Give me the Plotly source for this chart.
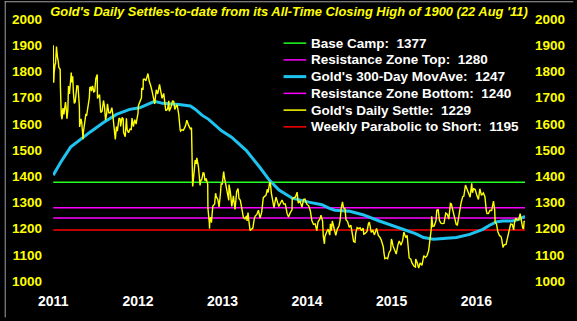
import plotly.graph_objects as go

# ---------------- data ----------------
settle_dates = [
    "2011-08-22","2011-08-23","2011-08-24","2011-08-25","2011-08-26","2011-08-30","2011-09-01","2011-09-05","2011-09-06","2011-09-09",
    "2011-09-13","2011-09-15","2011-09-19","2011-09-21","2011-09-22","2011-09-23","2011-09-26","2011-09-27","2011-09-28","2011-09-30",
    "2011-10-03","2011-10-05","2011-10-07","2011-10-11","2011-10-14","2011-10-18","2011-10-20","2011-10-24","2011-10-27","2011-10-31",
    "2011-11-03","2011-11-08","2011-11-10","2011-11-14","2011-11-17","2011-11-21","2011-11-25","2011-11-29","2011-12-02","2011-12-07",
    "2011-12-09","2011-12-13","2011-12-14","2011-12-16","2011-12-20","2011-12-23","2011-12-29","2011-12-30",
    "2012-01-03","2012-01-06","2012-01-10","2012-01-13","2012-01-18","2012-01-23","2012-01-25","2012-01-27","2012-01-31","2012-02-03",
    "2012-02-08","2012-02-13","2012-02-17","2012-02-22","2012-02-28","2012-02-29","2012-03-05","2012-03-09","2012-03-14","2012-03-20",
    "2012-03-26","2012-03-30","2012-04-04","2012-04-09","2012-04-12","2012-04-18","2012-04-25","2012-05-01","2012-05-04","2012-05-09",
    "2012-05-14","2012-05-16","2012-05-21","2012-05-25","2012-06-01","2012-06-06","2012-06-08","2012-06-14","2012-06-19","2012-06-21",
    "2012-06-28","2012-07-03","2012-07-06","2012-07-12","2012-07-19","2012-07-24","2012-07-27","2012-08-02","2012-08-08","2012-08-14",
    "2012-08-17","2012-08-22","2012-08-24","2012-08-31","2012-09-06","2012-09-07","2012-09-13","2012-09-14","2012-09-19","2012-09-25",
    "2012-09-28","2012-10-04","2012-10-09","2012-10-12","2012-10-16","2012-10-22","2012-10-25","2012-11-02","2012-11-09","2012-11-15",
    "2012-11-23","2012-11-28","2012-12-04","2012-12-11","2012-12-14","2012-12-20","2012-12-28",
    "2013-01-02","2013-01-04","2013-01-11","2013-01-18","2013-01-23","2013-01-28","2013-01-31","2013-02-05","2013-02-08","2013-02-14",
    "2013-02-20","2013-02-22","2013-02-28","2013-03-06","2013-03-15","2013-03-21","2013-03-28","2013-04-05","2013-04-10","2013-04-12",
    "2013-04-15","2013-04-16","2013-04-22","2013-04-26","2013-05-01","2013-05-03","2013-05-10","2013-05-15","2013-05-17","2013-05-20",
    "2013-05-24","2013-05-30","2013-06-03","2013-06-07","2013-06-12","2013-06-19","2013-06-20","2013-06-26","2013-06-27","2013-06-28",
    "2013-07-02","2013-07-05","2013-07-11","2013-07-19","2013-07-23","2013-07-26","2013-08-02","2013-08-07","2013-08-13","2013-08-16",
    "2013-08-21","2013-08-27","2013-08-30","2013-09-05","2013-09-12","2013-09-18","2013-09-19","2013-09-25","2013-10-01","2013-10-08",
    "2013-10-15","2013-10-22","2013-10-28","2013-11-01","2013-11-07","2013-11-12","2013-11-20","2013-11-27","2013-12-04","2013-12-06",
    "2013-12-10","2013-12-13","2013-12-19","2013-12-24","2013-12-31",
    "2014-01-06","2014-01-10","2014-01-17","2014-01-24","2014-01-31","2014-02-07","2014-02-14","2014-02-21","2014-02-26","2014-03-03",
    "2014-03-07","2014-03-14","2014-03-17","2014-03-21","2014-03-28","2014-04-01","2014-04-10","2014-04-15","2014-04-22","2014-04-28",
    "2014-05-06","2014-05-13","2014-05-20","2014-05-28","2014-06-03","2014-06-10","2014-06-18","2014-06-19","2014-06-27","2014-07-03",
    "2014-07-10","2014-07-15","2014-07-22","2014-07-31","2014-08-07","2014-08-13","2014-08-20","2014-08-29","2014-09-05","2014-09-12",
    "2014-09-19","2014-09-26","2014-10-03","2014-10-08","2014-10-17","2014-10-21","2014-10-28","2014-10-31","2014-11-05","2014-11-07",
    "2014-11-14","2014-11-21","2014-11-28","2014-12-01","2014-12-05","2014-12-09","2014-12-15","2014-12-18","2014-12-24","2014-12-31",
    "2015-01-07","2015-01-12","2015-01-16","2015-01-22","2015-01-26","2015-02-02","2015-02-06","2015-02-13","2015-02-20","2015-02-27",
    "2015-03-06","2015-03-11","2015-03-17","2015-03-20","2015-03-26","2015-04-02","2015-04-08","2015-04-14","2015-04-21","2015-04-24",
    "2015-04-30","2015-05-08","2015-05-14","2015-05-18","2015-05-26","2015-06-02","2015-06-09","2015-06-18","2015-06-26","2015-07-01",
    "2015-07-08","2015-07-17","2015-07-20","2015-07-24","2015-07-30","2015-08-05","2015-08-11","2015-08-18","2015-08-21","2015-08-24",
    "2015-08-28","2015-09-04","2015-09-11","2015-09-18","2015-09-24","2015-10-02","2015-10-09","2015-10-14","2015-10-22","2015-10-28",
    "2015-11-03","2015-11-06","2015-11-13","2015-11-18","2015-11-27","2015-12-03","2015-12-04","2015-12-10","2015-12-17","2015-12-23",
    "2015-12-31",
    "2016-01-05","2016-01-08","2016-01-15","2016-01-22","2016-01-29","2016-02-04","2016-02-09","2016-02-11","2016-02-16","2016-02-22",
    "2016-02-26","2016-03-01","2016-03-04","2016-03-10","2016-03-16","2016-03-23","2016-03-28","2016-04-04","2016-04-12","2016-04-19",
    "2016-04-25","2016-05-02","2016-05-06","2016-05-12","2016-05-19","2016-05-27","2016-06-01","2016-06-06","2016-06-13","2016-06-17",
    "2016-06-24","2016-06-29","2016-07-06","2016-07-11","2016-07-19","2016-07-26","2016-08-02","2016-08-05","2016-08-10","2016-08-17",
    "2016-08-24","2016-08-31","2016-09-06","2016-09-13","2016-09-21","2016-09-28","2016-10-04","2016-10-07","2016-10-13","2016-10-20",
    "2016-10-27","2016-11-04","2016-11-08","2016-11-09","2016-11-11","2016-11-17","2016-11-23","2016-11-30","2016-12-06","2016-12-09",
    "2016-12-15","2016-12-20","2016-12-28",
    "2017-01-04","2017-01-09","2017-01-13","2017-01-17","2017-01-24","2017-01-30","2017-02-02","2017-02-08","2017-02-15","2017-02-21",
    "2017-02-27","2017-03-01","2017-03-07","2017-03-10","2017-03-14","2017-03-16","2017-03-20",
]
settle_prices = [
    1900,1862,1757,1772,1795,1828,1829,1895,1873,1856,
    1836,1816,1810,1808,1741,1656,1628,1652,1617,1624,
    1660,1642,1636,1663,1683,1649,1619,1652,1744,1714,
    1763,1796,1758,1781,1721,1678,1684,1716,1745,1744,
    1713,1664,1588,1598,1619,1606,1541,1566,
    1600,1616,1638,1630,1660,1678,1700,1738,1740,1725,
    1745,1722,1724,1773,1788,1697,1705,1712,1643,1648,
    1689,1669,1614,1640,1676,1642,1642,1662,1645,1593,
    1557,1540,1589,1572,1622,1618,1590,1624,1619,1566,
    1551,1621,1579,1566,1580,1578,1622,1589,1616,1599,
    1616,1640,1670,1687,1699,1737,1730,1770,1771,1764,
    1771,1792,1764,1758,1745,1724,1712,1676,1730,1714,
    1750,1718,1697,1716,1696,1650,1656,
    1688,1648,1662,1687,1686,1655,1662,1673,1667,1635,
    1577,1572,1578,1575,1592,1614,1595,1581,1585,1501,
    1361,1368,1424,1462,1447,1470,1437,1395,1365,1385,
    1386,1413,1412,1383,1391,1370,1277,1222,1200,1234,
    1243,1223,1286,1294,1335,1322,1310,1283,1334,1370,
    1370,1418,1396,1367,1323,1308,1368,1337,1285,1325,
    1273,1342,1353,1315,1308,1281,1243,1237,1249,1229,
    1261,1235,1193,1197,1202,
    1237,1248,1254,1270,1240,1262,1318,1323,1328,1350,
    1338,1379,1372,1334,1294,1280,1320,1302,1284,1296,
    1309,1294,1294,1257,1244,1260,1272,1314,1320,1321,
    1339,1297,1306,1282,1312,1313,1294,1287,1268,1230,
    1216,1218,1192,1225,1238,1251,1229,1171,1142,1169,
    1186,1198,1175,1218,1192,1229,1207,1196,1174,1199,
    1211,1233,1276,1302,1280,1275,1234,1227,1205,1213,
    1164,1151,1148,1182,1204,1200,1203,1192,1202,1179,
    1182,1189,1219,1225,1186,1193,1176,1201,1173,1169,
    1157,1131,1107,1085,1088,1085,1108,1118,1160,1153,
    1134,1121,1103,1137,1153,1137,1156,1187,1166,1174,
    1115,1088,1083,1069,1056,1053,1084,1072,1049,1069,
    1060,
    1078,1097,1090,1097,1116,1157,1197,1247,1208,1210,
    1220,1231,1270,1272,1230,1220,1219,1220,1259,1254,
    1236,1296,1294,1273,1252,1216,1214,1247,1285,1298,
    1322,1324,1366,1355,1332,1320,1373,1337,1352,1349,
    1327,1311,1352,1327,1336,1322,1269,1257,1257,1270,
    1269,1305,1277,1274,1226,1217,1188,1173,1170,1162,
    1128,1138,1140,
    1165,1184,1200,1217,1216,1195,1220,1240,1233,1234,
    1257,1248,1214,1203,1199,1227,1229,
]

ma_dates = [
    "2011-08-22","2011-09-24","2011-11-05","2011-12-18","2012-01-29","2012-03-26","2012-05-21","2012-07-17",
    "2012-08-29","2012-11-01","2012-12-06","2013-02-15","2013-04-05","2013-04-27","2013-05-25","2013-06-23",
    "2013-08-18","2013-09-30","2013-11-11","2013-12-03","2014-01-28","2014-03-12","2014-04-23","2014-06-19",
    "2014-08-29","2014-10-25","2014-11-29","2014-12-20","2015-02-22","2015-04-20","2015-06-30","2015-09-09",
    "2015-10-21","2015-12-03","2016-01-07","2016-02-19","2016-04-15","2016-05-28","2016-07-24","2016-09-19",
    "2016-10-18","2016-11-15","2016-12-13","2017-01-24","2017-02-21","2017-03-20",
]
ma_values = [
    1404,1454,1511,1542,1569,1605,1636,1655,
    1661,1686,1678,1674,1668,1655,1633,1617,
    1573,1549,1517,1498,1436,1385,1347,1316,
    1301,1291,1276,1270,1266,1253,1229,1206,
    1193,1181,1166,1159,1163,1166,1178,1197,
    1213,1225,1229,1229,1235,1247,
]

base_camp = 1377
res_zone_top = 1280
res_zone_bottom = 1240
weekly_parabolic = 1195

year_labels = ["2011", "2012", "2013", "2014", "2015", "2016"]
year_tick_dates = ["2011-08-22", "2012-08-22", "2013-08-22", "2014-08-22", "2015-08-22", "2016-08-22"]
y_ticks = [1000, 1100, 1200, 1300, 1400, 1500, 1600, 1700, 1800, 1900, 2000]

title_text = "Gold's Daily Settles-to-date from its All-Time Closing High of 1900 (22 Aug '11)"

# ---------------- styling ----------------
W, H = 577, 321
L, R, T, B = 49, 49, 18, 37
YELLOW = "#FFFF00"
CYAN = "#1EC3F0"
GREEN = "#22FF22"
MAGENTA = "#FF00FF"
RED = "#FF0000"

x_start, x_end = settle_dates[0], settle_dates[-1]

fig = go.Figure()

levels = [
    ("Base Camp", base_camp, GREEN),
    ("Resistance Zone Top", res_zone_top, MAGENTA),
    ("Resistance Zone Bottom", res_zone_bottom, MAGENTA),
    ("Weekly Parabolic to Short", weekly_parabolic, RED),
]
for name, val, col in levels:
    fig.add_trace(go.Scatter(x=[x_start, x_end], y=[val, val], mode="lines",
                             line=dict(color=col, width=1.5), showlegend=False, hoverinfo="skip"))

fig.add_trace(go.Scatter(x=ma_dates, y=ma_values, mode="lines",
                         line=dict(color=CYAN, width=3), showlegend=False))
fig.add_trace(go.Scatter(x=settle_dates, y=settle_prices, mode="lines",
                         line=dict(color=YELLOW, width=1.4), showlegend=False))
# right-hand axis carrier
fig.add_trace(go.Scatter(x=[x_start], y=[None], yaxis="y2", mode="lines",
                         showlegend=False, hoverinfo="skip"))

# ---------------- manual legend ----------------
legend_items = [
    ("Base Camp", base_camp, GREEN, 1.5),
    ("Resistance Zone Top", res_zone_top, MAGENTA, 1.5),
    ("Gold's 300-Day MovAve", ma_values[-1], CYAN, 3),
    ("Resistance Zone Bottom", res_zone_bottom, MAGENTA, 1.5),
    ("Gold's Daily Settle", settle_prices[-1], YELLOW, 1.5),
    ("Weekly Parabolic to Short", weekly_parabolic, RED, 1.5),
]
pw, ph = W - L - R, H - T - B
def px(x):
    return (x - L) / pw
def py(y):
    return (H - B - y) / ph

shapes = []
annotations = []
for i, (name, val, col, lw) in enumerate(legend_items):
    yy = 42.5 + i * 17.0
    shapes.append(dict(type="line", xref="paper", yref="paper", x0=px(283), x1=px(306),
                       y0=py(yy), y1=py(yy), line=dict(color=col, width=lw)))
    annotations.append(dict(xref="paper", yref="paper", x=px(309), y=py(yy),
                            xanchor="left", yanchor="middle", showarrow=False,
                            text=f"{name}:\u00a0\u00a0{val}",
                            font=dict(family="Liberation Sans, Arial", size=13.5, color="white", weight="bold")))

# grey frame on top/left edges
shapes.append(dict(type="line", xref="paper", yref="paper", x0=px(0.5), x1=px(0.5), y0=py(0), y1=py(H),
                   line=dict(color="#A0A0A0", width=1)))
shapes.append(dict(type="line", xref="paper", yref="paper", x0=px(0), x1=px(W), y0=py(0.5), y1=py(0.5),
                   line=dict(color="#A0A0A0", width=1)))

tickfont_y = dict(family="Liberation Sans, Arial", size=13.5, color=YELLOW, weight="bold")

fig.update_layout(
    width=W, height=H,
    margin=dict(l=L, r=R, t=T, b=B, pad=0),
    paper_bgcolor="black", plot_bgcolor="black",
    showlegend=False,
    title=dict(text=title_text, x=0.5, xref="paper", xanchor="center",
               y=1 - 11 / H, yref="container", yanchor="middle",
               font=dict(family="Liberation Sans, Arial", size=12.9,
                         color=YELLOW, weight="bold", style="italic")),
    xaxis=dict(type="date", range=["2011-08-21", x_end], showgrid=False, zeroline=False,
               tickvals=year_tick_dates, ticktext=year_labels, ticks="", showline=False,
               tickfont=dict(family="Liberation Sans, Arial", size=14, color="white", weight="bold"),
               ticklabelstandoff=10),
    yaxis=dict(range=[1000, 2000], tickvals=y_ticks, showgrid=False, zeroline=False, ticks="",
               showline=False, tickfont=tickfont_y, ticklabelstandoff=10),
    yaxis2=dict(range=[1000, 2000], tickvals=y_ticks, overlaying="y", side="right", showgrid=False,
                zeroline=False, ticks="", showline=False, tickfont=tickfont_y, ticklabelstandoff=9),
    shapes=shapes,
    annotations=annotations,
)

fig.write_html("out.html")
